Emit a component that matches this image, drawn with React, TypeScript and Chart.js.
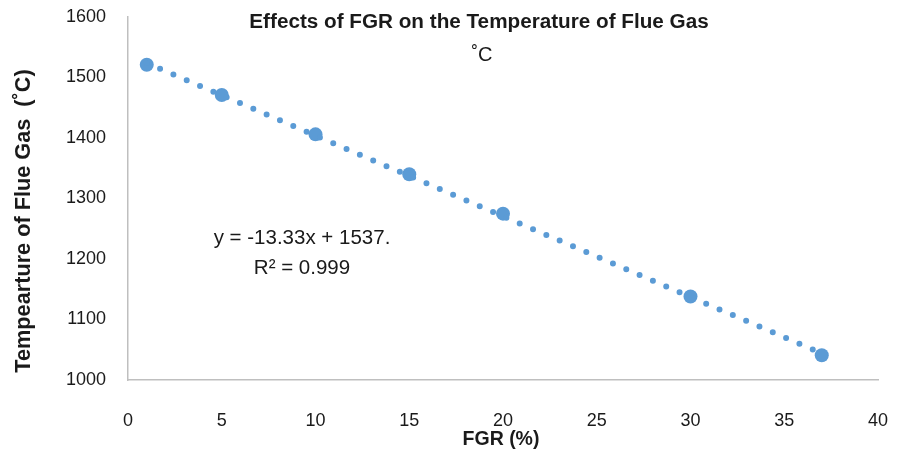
import React, { useEffect, useRef } from "react";
import { Chart, registerables } from "chart.js";

Chart.register(...registerables);

// Measured data points
const fgrPercent = [1, 5, 10, 15, 20, 30, 37];
const flueGasTemp = [1521, 1471, 1406, 1340, 1275, 1138, 1041];

// Linear trendline end points
const trendX = [1, 37];
const trendY = [1524, 1044];

const xTicks = [0, 5, 10, 15, 20, 25, 30, 35, 40];
const yTicks = [1000, 1100, 1200, 1300, 1400, 1500, 1600];

const titleText = "Effects of FGR on the Temperature of Flue Gas";
const subtitleText = "˚C";
const yTitleText = "Tempearture of Flue Gas  (˚C)";
const xTitleText = "FGR (%)";
const equationLines = ["y = -13.33x + 1537.", "R² = 0.999"];

const BLUE = "#5B9BD5";
const TEXT = "#1a1a1a";
const REG = "'Liberation Sans', sans-serif";

const textPlugin = {
  id: "textPlugin",
  afterDraw(chart: any) {
    const ctx = chart.ctx;
    ctx.save();
    ctx.fillStyle = TEXT;
    ctx.textAlign = "center";
    ctx.textBaseline = "middle";
    // title
    ctx.font = `bold 20.7px ${REG}`;
    ctx.fillText(titleText, 479, 22);
    ctx.font = `20px ${REG}`;
    ctx.fillText(subtitleText, 482, 55);
    // x title
    ctx.font = `bold 19.5px ${REG}`;
    ctx.textBaseline = "alphabetic";
    ctx.fillText(xTitleText, 501, 445);
    ctx.textBaseline = "middle";
    // y title
    ctx.save();
    ctx.translate(24, 221);
    ctx.rotate(-Math.PI / 2);
    ctx.font = `bold 21.7px ${REG}`;
    ctx.fillText(yTitleText, 0, 0);
    ctx.restore();
    // trendline label
    ctx.font = `20.5px ${REG}`;
    ctx.fillText(equationLines[0], 302, 238);
    ctx.fillText(equationLines[1], 302, 268);
    ctx.restore();
  },
};

const zeroPad = (s: any) => {
  s.paddingTop = 0;
  s.paddingBottom = 0;
  s.paddingLeft = 0;
  s.paddingRight = 0;
};

export default function App() {
  const canvasRef = useRef<HTMLCanvasElement | null>(null);

  useEffect(() => {
    if (!canvasRef.current) return;
    const chart = new Chart(canvasRef.current, {
      type: "scatter",
      data: {
        datasets: [
          {
            label: "Trendline",
            data: trendX.map((x, i) => ({ x, y: trendY[i] })),
            showLine: true,
            borderColor: BLUE,
            borderWidth: 6,
            borderDash: [0, 14.5],
            borderCapStyle: "round",
            pointRadius: 0,
            fill: false,
          } as any,
          {
            label: "Temperature",
            data: fgrPercent.map((x, i) => ({ x, y: flueGasTemp[i] })),
            backgroundColor: BLUE,
            borderColor: BLUE,
            pointRadius: 7,
            pointBorderWidth: 0,
          },
        ],
      },
      options: {
        responsive: false,
        animation: false,
        layout: { padding: { left: 0, right: 23, top: 17, bottom: 0 } },
        plugins: {
          legend: { display: false },
          tooltip: { enabled: false },
          title: { display: false },
        },
        scales: {
          x: {
            type: "linear",
            min: 0,
            max: 40,
            afterFit: (s: any) => {
              s.height = 76;
              zeroPad(s);
            },
            afterBuildTicks: (s: any) => {
              s.ticks = xTicks.map((v) => ({ value: v }));
            },
            grid: { display: false, drawTicks: false },
            border: { display: true, color: "#BFBFBF", width: 1.5 },
            ticks: {
              padding: 30,
              color: TEXT,
              font: { family: REG, size: 18 },
              maxRotation: 0,
              callback: (v: any) => String(v),
            },
          },
          y: {
            type: "linear",
            min: 1000,
            max: 1600,
            afterFit: (s: any) => {
              s.width = 128;
              zeroPad(s);
            },
            afterBuildTicks: (s: any) => {
              s.ticks = yTicks.map((v) => ({ value: v }));
            },
            grid: { display: false, drawTicks: false },
            border: { display: true, color: "#BFBFBF", width: 1.5 },
            ticks: {
              padding: 22,
              color: TEXT,
              font: { family: REG, size: 18 },
              callback: (v: any) => String(v),
            },
          },
        },
      },
      plugins: [textPlugin],
    });
    return () => chart.destroy();
  }, []);

  return (
    <div style={{ position: "absolute", left: 0, top: 0, width: 901, height: 456, background: "#fff" }}>
      <canvas ref={canvasRef} width={901} height={456} style={{ width: 901, height: 456 }} />
    </div>
  );
}
